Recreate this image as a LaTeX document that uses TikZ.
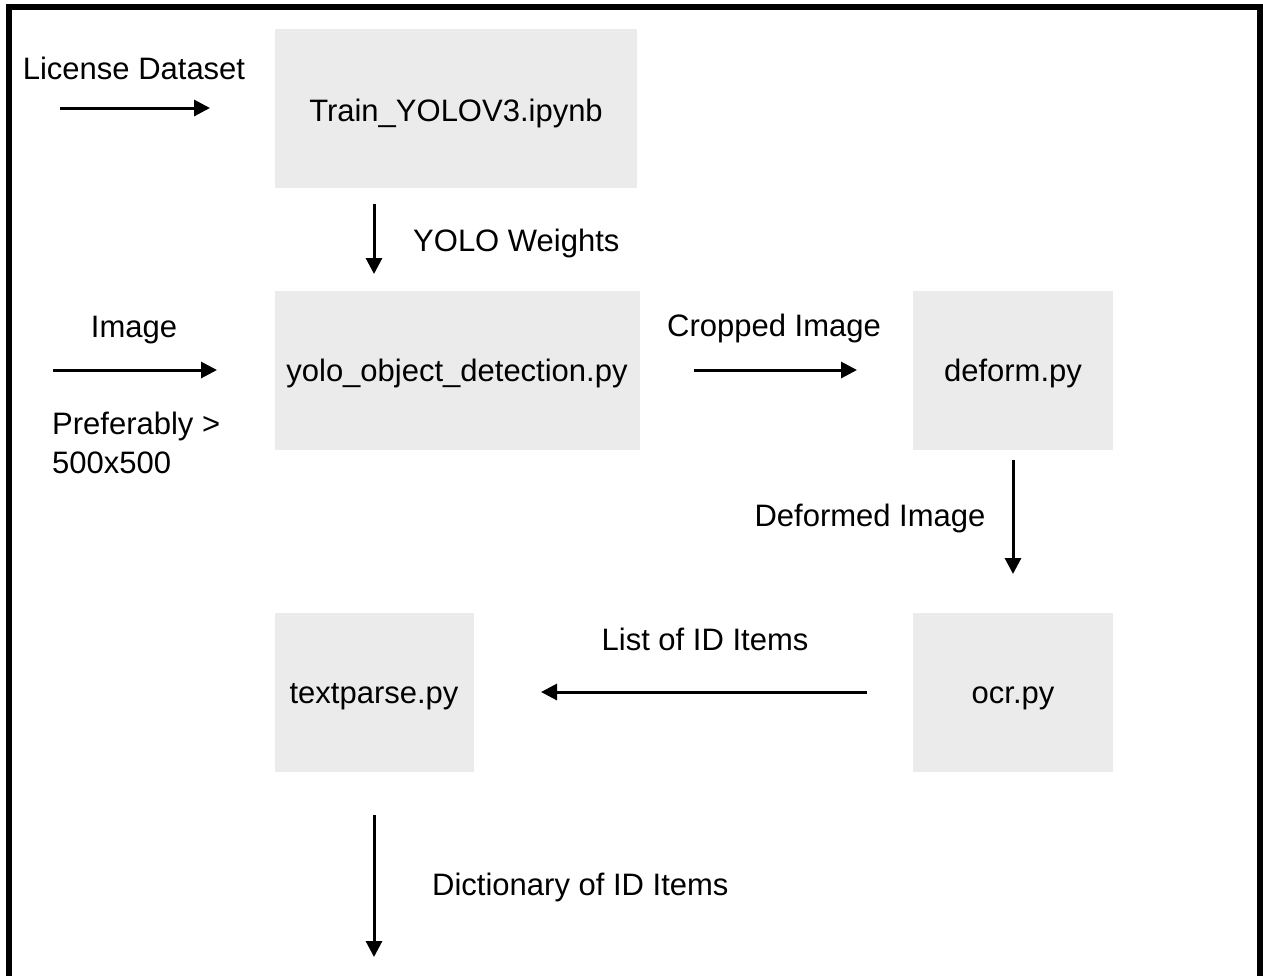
\documentclass[tikz,border=0pt]{standalone}
\usepackage{fontspec}
\setmainfont{Liberation Sans}
\usetikzlibrary{arrows.meta}
\begin{document}
\begin{tikzpicture}[x=1pt,y=-1pt,
  box/.style={fill=boxgray,inner sep=0pt,minimum width=#1,minimum height=159pt},
  lbl/.style={inner sep=0pt,anchor=base,font=\fontsize{31}{35}\selectfont},
  btxt/.style={inner sep=0pt,anchor=base,font=\fontsize{31}{35}\selectfont},
  flow/.style={line width=3pt,-{Triangle[length=16pt,width=16pt]}}]
\definecolor{boxgray}{HTML}{EBEBEB}
\useasboundingbox (0,0) rectangle (1263,975);
\draw[line width=6.5pt] (9,980) -- (9,7) -- (1260,7) -- (1260,980);
% boxes
\node[box=362pt] (train) at (456,108.5) {};
\node[box=365pt] (yolo) at (457.5,370.5) {};
\node[box=200pt] (deform) at (1013,370.5) {};
\node[box=200pt] (ocr) at (1013,692.5) {};
\node[box=199pt] (textparse) at (374.5,692.5) {};
% box texts
\node[btxt] at (456,121) {Train\_YOLOV3.ipynb};
\node[btxt] at (457,381) {yolo\_object\_detection.py};
\node[btxt] at (1013,381) {deform.py};
\node[btxt] at (1013,703) {ocr.py};
\node[btxt] at (374,703) {textparse.py};
% coordinates for free arrow ends
\coordinate (a1s) at (60,108); \coordinate (a1e) at (210,108);
\coordinate (a2s) at (374,204); \coordinate (a2e) at (374,274);
\coordinate (a3s) at (53,370); \coordinate (a3e) at (217,370);
\coordinate (a4s) at (694,370); \coordinate (a4e) at (857,370);
\coordinate (a5s) at (1013,460); \coordinate (a5e) at (1013,574);
\coordinate (a6s) at (867,692); \coordinate (a6e) at (541,692);
\coordinate (a7s) at (374,815); \coordinate (a7e) at (374,957);
\draw[flow] (a1s) -- (a1e);
\draw[flow] (a2s) -- (a2e);
\draw[flow] (a3s) -- (a3e);
\draw[flow] (a4s) -- (a4e);
\draw[flow] (a5s) -- (a5e);
\draw[flow] (a6s) -- (a6e);
\draw[flow] (a7s) -- (a7e);
% labels
\node[lbl] (l1) at (134,79) {License Dataset};
\node[lbl,anchor=base west] (l2) at (413,251) {YOLO Weights};
\node[lbl] (l3) at (134,337) {Image};
\node[lbl,anchor=base west] (l3b) at (52,434) {Preferably >};
\node[lbl,anchor=base west] (l3c) at (52,473) {500x500};
\node[lbl] (l4) at (774,336) {Cropped Image};
\node[lbl] (l5) at (870,526) {Deformed Image};
\node[lbl] (l6) at (705,650) {List of ID Items};
\node[lbl,anchor=base west] (l7) at (432,895) {Dictionary of ID Items};
\end{tikzpicture}
\end{document}
